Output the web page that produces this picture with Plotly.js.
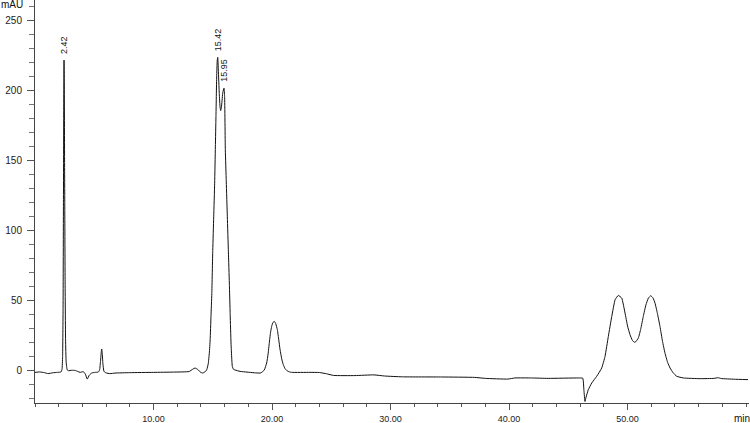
<!DOCTYPE html>
<html>
<head>
<meta charset="utf-8">
<script src="https://cdn.plot.ly/plotly-3.0.1.min.js"></script>
<style>
  html, body { margin: 0; padding: 0; background: #fff; }
  #chrom { width: 750px; height: 423px; }
</style>
</head>
<body>
<div id="chrom"></div>
<script>
/* Chromatogram trace, retention time (min) vs absorbance (mAU),
   read off the reference picture point by point. */

const rt = [
  0.00, 0.40, 0.80, 1.10, 1.50, 1.90, 2.20, 2.28, 2.33, 2.37,
  2.40, 2.43, 2.45, 2.47, 2.50, 2.54, 2.58, 2.63, 2.72, 2.81,
  3.10, 3.38, 3.60, 3.80, 4.08, 4.25, 4.41, 4.58, 4.78, 5.05,
  5.34, 5.45, 5.53, 5.60, 5.63, 5.67, 5.73, 5.82, 6.00, 6.33,
  6.75, 8.00, 10.00, 11.70, 13.00, 13.30, 13.50, 13.75, 13.95, 14.15,
  14.35, 14.49, 14.62, 14.71, 14.78, 14.85, 14.92, 15.00, 15.08, 15.16,
  15.22, 15.27, 15.33, 15.38, 15.42, 15.47, 15.55, 15.62, 15.67, 15.75,
  15.85, 15.95, 16.00, 16.06, 16.14, 16.23, 16.32, 16.40, 16.47, 16.54,
  16.60, 16.65, 16.75, 16.88, 17.30, 17.89, 18.50, 18.99, 19.13, 19.35,
  19.55, 19.67, 19.77, 19.87, 19.97, 20.08, 20.20, 20.32, 20.45, 20.57,
  20.68, 20.82, 20.95, 21.10, 21.24, 21.45, 21.66, 23.20, 24.00, 24.60,
  25.20, 27.00, 28.60, 29.50, 31.00, 34.30, 37.10, 38.00, 39.90, 40.50,
  41.90, 43.30, 45.85, 46.22, 46.32, 46.41, 46.50, 46.69, 46.98, 47.40,
  47.82, 48.10, 48.38, 48.67, 48.95, 49.22, 49.51, 49.79, 50.00, 50.21,
  50.42, 50.63, 50.91, 51.12, 51.33, 51.55, 51.76, 51.96, 52.15, 52.32,
  52.52, 52.74, 52.95, 53.16, 53.38, 53.59, 53.85, 54.15, 54.71, 56.12,
  57.30, 57.64, 57.90, 59.00, 60.17
];

const mau = [
  -1.2, -0.9, -1.4, -2.1, -1.5, -1.2, -0.9, 1, 10, 45,
  120, 200, 222, 205, 140, 65, 22, 6, 0.5, 0,
  0.3, 0.2, -0.5, -1.2, -0.7, -2.5, -6, -3.2, -1.7, -1.2,
  -1.0, 0.5, 7, 14, 15.5, 13, 5, -0.5, -1.6, -2.1,
  -1.7, -1.4, -1.2, -1.0, -0.6, 1.0, 1.9, 0.8, -1.0, -1.7,
  -0.8, 0.7, 5, 12.6, 22, 38.8, 55, 86, 110, 134,
  160, 181.6, 210, 222, 224, 215, 198, 188, 186, 190,
  199, 202, 196, 158, 135, 110, 85, 62.6, 40, 19.8,
  9, 3, 1, 0.5, -0.5, -1.0, -1.5, -1.7, -1.2, 0.5,
  5.5, 12, 19.8, 27, 31.7, 34.5, 35.2, 33.5, 29.3, 22,
  15, 8.5, 4.3, 1.5, 0.2, -0.8, -1.2, -1.2, -1.3, -2.2,
  -3.4, -3.5, -3.0, -3.8, -4.4, -4.5, -4.8, -5.5, -6.0, -5.2,
  -5.2, -5.5, -5.2, -5.4, -14, -22, -19, -13.6, -8.8, -4.0,
  1.9, 10.2, 24.5, 38.8, 50.7, 53.8, 51.9, 41.2, 32, 25.7,
  21.5, 20.2, 23.3, 30, 38.8, 47, 51.9, 53.6, 52, 48.3,
  41, 31.6, 21, 12.6, 6, 1.9, -1.5, -4.0, -5.2, -5.7,
  -5.5, -5.0, -5.6, -6.1, -6.4
];

// integrated peaks that carry a retention-time label
const peakRT = [2.43, 15.40, 15.95];
const peakHeight = [222, 224, 202];
const peakText = ['2.42', '15.42', '15.95'];

// axis labels
const xTickVals = [10, 20, 30, 40, 50];
const xTickText = ['10.00', '20.00', '30.00', '40.00', '50.00'];
const yTickVals = [0, 50, 100, 150, 200, 250];

const FONT = 'Liberation Sans, Arial, Helvetica, sans-serif';

const trace = {
  type: 'scatter',
  mode: 'lines',
  x: rt,
  y: mau,
  line: { color: '#111', width: 1, shape: 'spline', smoothing: 0.4 },
  hoverinfo: 'skip'
};

const annotations = peakRT.map((t, i) => ({
  xref: 'x', yref: 'y', x: t, y: peakHeight[i],
  text: peakText[i], textangle: -90,
  xanchor: 'center', yanchor: 'bottom', yshift: 4,
  showarrow: false,
  font: { family: FONT, size: 9, color: '#111' }
}));

annotations.push({
  xref: 'paper', yref: 'paper', x: -35 / 714, y: 1,
  xanchor: 'left', yanchor: 'middle', yshift: -4, xshift: -1,
  text: 'mAU', showarrow: false,
  font: { family: FONT, size: 10, color: '#111' }
});
annotations.push({
  xref: 'paper', yref: 'paper', x: 1, y: 0,
  xanchor: 'right', yanchor: 'top', xshift: 3, yshift: -8,
  text: 'min', showarrow: false,
  font: { family: FONT, size: 10, color: '#111' }
});

const layout = {
  width: 750,
  height: 423,
  margin: { l: 35, r: 1, t: 0, b: 20, pad: 0 },
  paper_bgcolor: '#fff',
  plot_bgcolor: '#fff',
  showlegend: false,
  font: { family: FONT, size: 10, color: '#111' },
  xaxis: {
    range: [0, 60.25],
    showgrid: false, zeroline: false,
    showline: true, linecolor: '#444', linewidth: 1,
    ticks: 'outside', ticklen: 6, tickcolor: '#555', tickwidth: 1,
    tickmode: 'array', tickvals: xTickVals, ticktext: xTickText,
    ticklabelstandoff: 1,
    tickfont: { family: FONT, size: 9, color: '#222' },
    minor: { dtick: 2, tick0: 0, ticks: 'outside', ticklen: 3, tickcolor: '#555', showgrid: false }
  },
  yaxis: {
    range: [-23.1, 265],
    showgrid: false, zeroline: false,
    showline: true, linecolor: '#444', linewidth: 1,
    ticks: 'outside', ticklen: 7, tickcolor: '#555', tickwidth: 1,
    tickmode: 'array', tickvals: yTickVals,
    ticklabelstandoff: 3,
    tickfont: { family: FONT, size: 10, color: '#222' },
    minor: { dtick: 10, tick0: 0, ticks: 'outside', ticklen: 5, tickcolor: '#777', showgrid: false }
  },
  annotations: annotations
};

Plotly.newPlot('chrom', [trace], layout, { staticPlot: true, displayModeBar: false });
</script>
</body>
</html>
